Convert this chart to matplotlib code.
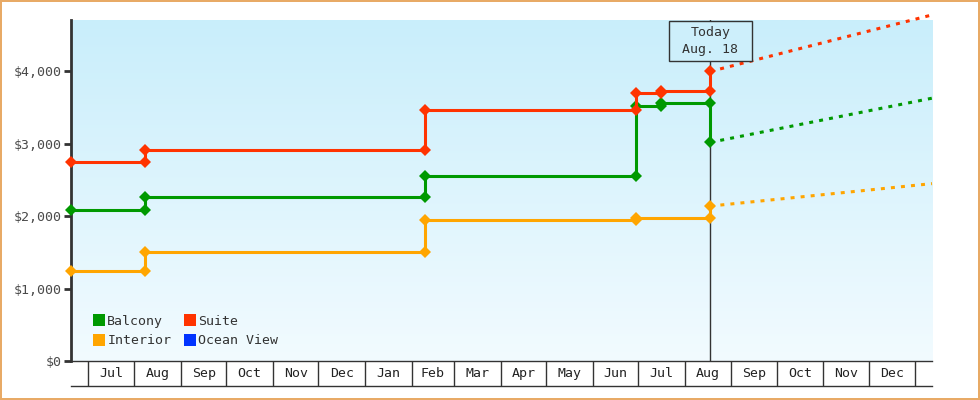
import matplotlib
matplotlib.use("Agg")
import matplotlib.pyplot as plt
import matplotlib.dates as mdates
import matplotlib.transforms as mtransforms
from matplotlib.colors import LinearSegmentedColormap
from matplotlib.lines import Line2D
import numpy as np
import pandas as pd

# price changes per cabin (date of change, new price)
balcony_dates = ["2012-06-20", "2012-08-08", "2013-02-10", "2013-06-30", "2013-07-16", "2013-08-18"]
balcony_prices = [2080, 2260, 2560, 3520, 3560, 3020]

suite_dates = ["2012-06-20", "2012-08-08", "2013-02-10", "2013-06-30", "2013-07-16", "2013-08-18"]
suite_prices = [2750, 2910, 3460, 3700, 3735, 4000]

interior_dates = ["2012-06-20", "2012-08-08", "2013-02-10", "2013-06-30", "2013-08-18"]
interior_prices = [1250, 1500, 1950, 1975, 2140]

# projected prices at the right edge of the chart
projection_end = "2014-01-12"
balcony_proj = 3630
suite_proj = 4780
interior_proj = 2450

today = "2013-08-18"
x_start = "2012-06-20"

month_starts = pd.date_range("2012-07-01", "2014-01-01", freq="MS")
month_labels = ["Jul", "Aug", "Sep", "Oct", "Nov", "Dec", "Jan", "Feb", "Mar",
                "Apr", "May", "Jun", "Jul", "Aug", "Sep", "Oct", "Nov", "Dec"]

y_ticks = [0, 1000, 2000, 3000, 4000]

GREEN = "#009900"
RED = "#ff3300"
ORANGE = "#ffa500"
BLUE = "#0033ff"
DARK = "#333333"

plt.rcParams["font.family"] = ["DejaVu Sans Mono"]
plt.rcParams["font.size"] = 9.5

fig = plt.figure(figsize=(9.8, 4.0), dpi=100)
fig.patch.set_facecolor("white")
fig.patch.set_edgecolor("#e8aa66")
fig.patch.set_linewidth(1.5)

pos = [71 / 980, 39 / 400, 861 / 980, 341 / 400]

# gradient background
bg = fig.add_axes(pos, zorder=0)
grad = np.linspace(0, 1, 256).reshape(-1, 1)
cmap = LinearSegmentedColormap.from_list("sky", ["#c9eefb", "#f2fbff"])
bg.imshow(grad, cmap=cmap, aspect="auto", extent=(0, 1, 0, 1))
bg.axis("off")

ax = fig.add_axes(pos, zorder=1)
ax.set_facecolor("none")


def step_points(dates, prices):
    d = pd.to_datetime(dates)
    xs = [d[0]]
    ys = [prices[0]]
    for i in range(1, len(d)):
        xs += [d[i], d[i]]
        ys += [prices[i - 1], prices[i]]
    return xs, ys


series = [
    (balcony_dates, balcony_prices, balcony_proj, GREEN),
    (suite_dates, suite_prices, suite_proj, RED),
    (interior_dates, interior_prices, interior_proj, ORANGE),
]

ax.axvline(pd.Timestamp(today), color=DARK, lw=1, zorder=2)

for dates, prices, proj, col in series:
    xs, ys = step_points(dates, prices)
    ax.plot(xs, ys, color=col, lw=2.2, marker="D", ms=6.0, mew=0, zorder=3,
            clip_on=False)
    ax.plot([pd.Timestamp(today), pd.Timestamp(projection_end)], [prices[-1], proj],
            color=col, lw=2.2, ls=(0, (1.3, 2.0)), zorder=3, clip_on=False)

ax.set_xlim(pd.Timestamp(x_start), pd.Timestamp(projection_end))
ax.set_ylim(0, 4710)

ax.spines["top"].set_visible(False)
ax.spines["right"].set_visible(False)
ax.spines["left"].set_linewidth(2)
ax.spines["left"].set_color(DARK)
ax.spines["bottom"].set_linewidth(1)
ax.spines["bottom"].set_color(DARK)
ax.set_yticks(y_ticks)
ax.set_yticklabels(["${:,}".format(v) for v in y_ticks])
ax.tick_params(axis="y", length=5, width=2, color=DARK, labelcolor="#4a4a4a", pad=2)
ax.tick_params(axis="x", bottom=False, labelbottom=False)

# today label, box top sits on the top of the plot
trans = mtransforms.blended_transform_factory(ax.transData, ax.transAxes)
ax.annotate("Today\n Aug. 18 ", xy=(mdates.date2num(pd.Timestamp(today)), 1.0),
            xycoords=trans, xytext=(0, -4.6), textcoords="offset points",
            ha="center", va="top", multialignment="center", color=DARK, zorder=4,
            linespacing=1.35,
            bbox=dict(boxstyle="square,pad=0.4", fc="#cdeffb", ec=DARK, lw=1))

# legend
handles = [
    Line2D([], [], ls="none", marker="s", ms=8, mew=0, color=GREEN),
    Line2D([], [], ls="none", marker="s", ms=8, mew=0, color=ORANGE),
    Line2D([], [], ls="none", marker="s", ms=8, mew=0, color=RED),
    Line2D([], [], ls="none", marker="s", ms=8, mew=0, color=BLUE),
]
labels = ["Balcony", "Interior", "Suite", "Ocean View"]
leg = ax.legend(handles, labels, ncol=2, loc="lower left", bbox_to_anchor=(0.020, 0.025),
                frameon=False, handlelength=0.8, handletextpad=0.25,
                columnspacing=1.0, labelspacing=0.5, borderaxespad=0)
for t in leg.get_texts():
    t.set_color(DARK)

# month band under the plot
band = fig.add_axes([71 / 980, 14 / 400, 861 / 980, 25 / 400], sharex=ax, zorder=1)
band.set_ylim(0, 1)
band.set_facecolor("none")
for s in ["left", "right", "top"]:
    band.spines[s].set_visible(False)
band.spines["bottom"].set_color(DARK)
band.spines["bottom"].set_linewidth(1)
band.tick_params(left=False, bottom=False, labelleft=False, labelbottom=False)
for d in month_starts:
    band.axvline(d, color=DARK, lw=1)
for i, lab in enumerate(month_labels):
    mid = month_starts[i] + (month_starts[i + 1] - month_starts[i]) / 2
    band.text(mid, 0.5, lab, ha="center", va="center", color="#222222")

fig.savefig("out.png", dpi=100)
